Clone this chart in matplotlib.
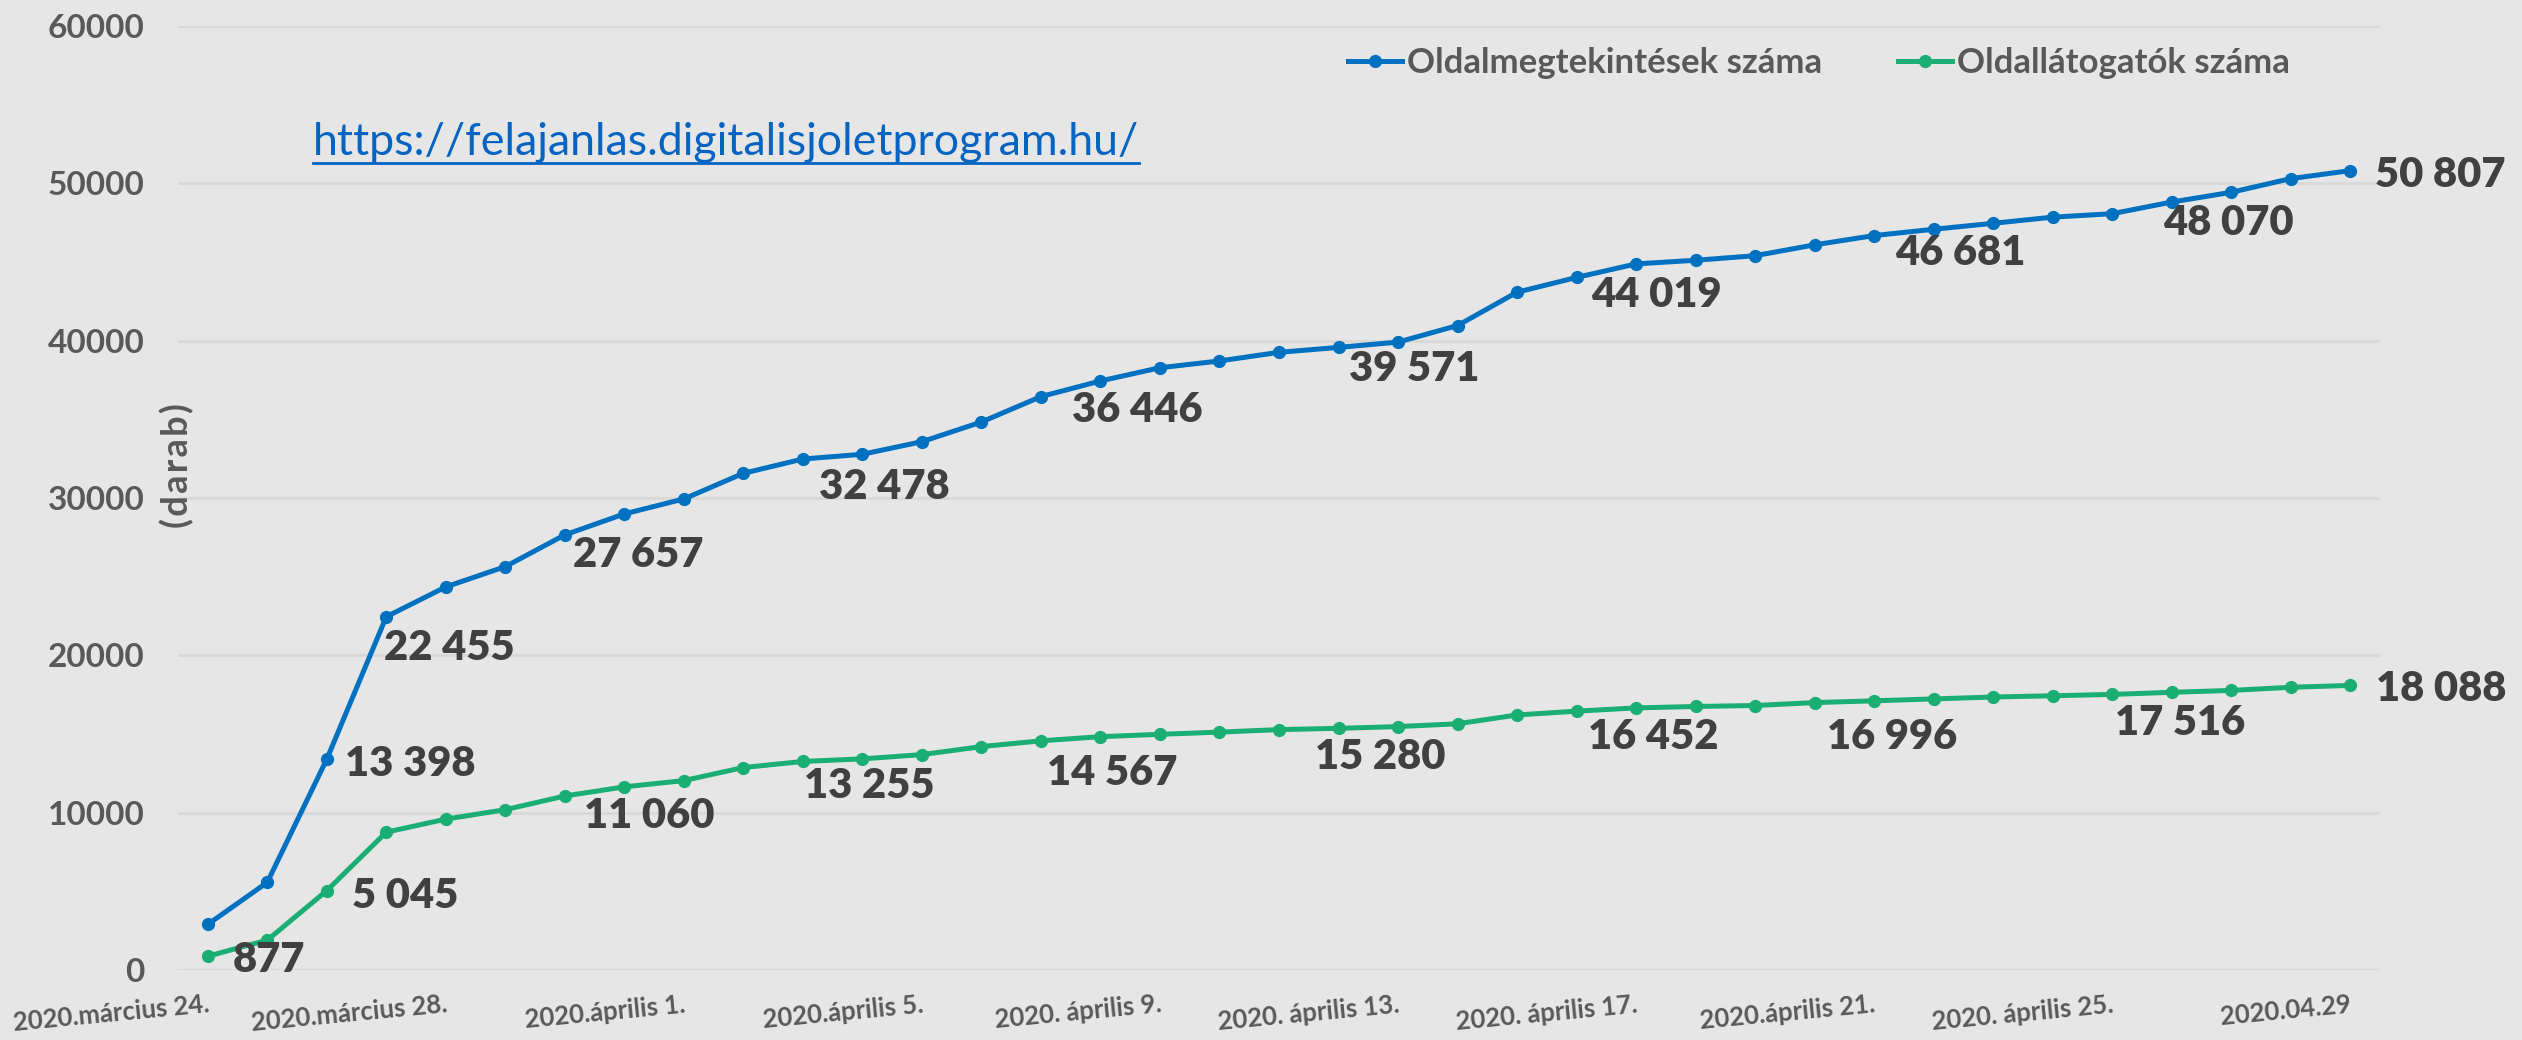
import matplotlib
matplotlib.use("Agg")
import matplotlib.pyplot as plt
from matplotlib.lines import Line2D

# chart data
tick_pos = [0, 4, 8, 12, 16, 20, 24, 28, 32, 36]
tick_labels = ["2020.március 24.", "2020.március 28.", "2020.április 1.", "2020.április 5.",
               "2020. április 9.", "2020. április 13.", "2020. április 17.", "2020.április 21.",
               "2020. április 25.", "2020.04.29"]

views = [2900, 5570, 13398, 22455, 24350, 25640, 27657, 28990, 29940, 31570,
         32478, 32780, 33580, 34830, 36446, 37440, 38280, 38710, 39260, 39571,
         39910, 40960, 43080, 44019, 44880, 45110, 45400, 46090, 46681, 47080,
         47460, 47850, 48070, 48810, 49430, 50300, 50807]
visitors = [877, 1900, 5045, 8760, 9590, 10190, 11060, 11640, 12040, 12870,
            13255, 13420, 13690, 14200, 14567, 14830, 14980, 15120, 15280, 15360,
            15470, 15650, 16210, 16452, 16660, 16750, 16810, 16996, 17110, 17230,
            17350, 17430, 17516, 17650, 17770, 17970, 18088]

series_names = ["Oldalmegtekintések száma", "Oldallátogatók száma"]

# which points get a value label
views_labeled = [2, 3, 6, 10, 14, 19, 23, 28, 32, 36]
visitors_labeled = [0, 2, 6, 10, 14, 18, 23, 27, 32, 36]

url = "https://felajanlas.digitalisjoletprogram.hu/"

# style
W, H = 2522, 1040
bg = "#E7E6E6"
blue = "#0070C0"
green = "#1BAE74"
gray = "#595959"
dark = "#404040"

plt.rcParams['font.family'] = ['Lato', 'DejaVu Sans']

fig = plt.figure(figsize=(W / 100, H / 100), dpi=100, facecolor=bg)
ax = fig.add_axes([178 / W, 1 - 970 / H, 2202 / W, 944 / H])
ax.set_facecolor(bg)

x = list(range(len(views)))
ax.plot(x, views, color=blue, lw=3.6, marker='o', ms=8.5, label=series_names[0], zorder=3)
ax.plot(x, visitors, color=green, lw=3.6, marker='o', ms=8.5, label=series_names[1], zorder=3)

ax.set_xlim(-0.5, len(x) - 0.5)
ax.set_ylim(0, 60000)
ax.set_yticks(range(0, 60001, 10000))
ax.set_yticklabels([str(v) for v in range(0, 60001, 10000)],
                   fontsize=24, fontweight='bold', color=gray)
ax.set_xticks(tick_pos)
ax.set_xticklabels(tick_labels, rotation=5.5, ha='right', rotation_mode='anchor',
                   fontsize=18.5, fontweight='bold', color=gray)
ax.tick_params(length=0)
ax.tick_params(axis='y', pad=24)
ax.tick_params(axis='x', pad=16)
ax.grid(axis='y', color='#D9D9D9', lw=2.2)
ax.set_axisbelow(True)
for s in ax.spines.values():
    s.set_visible(False)


def fmt(v):
    return f"{v:,}".replace(",", " ")


# label offsets in pixels (left edge, vertical centre) relative to the point
views_off = [(18, -2), (-2, -28), (8, -17), (16, -25), (31, -10),
             (10, -19), (14, -15), (21, -14), (51, -6), (25, -1)]
visitors_off = [(25, -1), (25, -2), (19, -17), (1, -22), (6, -29),
                (36, -24), (11, -23), (12, -31), (3, -26), (26, -1)]

for idx, (dx, dy) in zip(views_labeled, views_off):
    ax.annotate(fmt(views[idx]), (idx, views[idx]), xytext=(dx, dy - 15),
                textcoords='offset pixels', ha='left', va='baseline',
                fontsize=30, fontweight='heavy', color=dark, zorder=4)
for idx, (dx, dy) in zip(visitors_labeled, visitors_off):
    ax.annotate(fmt(visitors[idx]), (idx, visitors[idx]), xytext=(dx, dy - 15),
                textcoords='offset pixels', ha='left', va='baseline',
                fontsize=30, fontweight='heavy', color=dark, zorder=4)

# y axis label sits over the left edge (spaced out like the original)
fig.text(177 / W, 1 - 466 / H, "(\u200ad\u200aa\u200ar\u200aa\u200ab\u200a)", rotation=90,
         ha='center', va='center', fontsize=26, fontweight='bold', color=gray)

ax.legend(loc='center left', bbox_to_anchor=((1348 - 178) / 2202, (970 - 63) / 944),
          ncol=2, frameon=False, borderaxespad=0, borderpad=0,
          handlelength=1.55, handletextpad=0.14, columnspacing=2.2,
          prop={'weight': 'bold', 'size': 25}, labelcolor=gray)

# underlined link text, sized to the reference width
link = fig.text(313 / W, 1 - 155 / H, url, ha='left', va='baseline',
                fontsize=28, color="#0563C1")
fig.canvas.draw()
bb = link.get_window_extent()
link.set_fontsize(28 * 828 / bb.width)
fig.canvas.draw()
bb = link.get_window_extent()
fig.add_artist(Line2D([bb.x0 / W, bb.x1 / W], [1 - 163 / H, 1 - 163 / H],
                      transform=fig.transFigure, color="#0563C1", lw=2))

fig.savefig("out.png", dpi=100, facecolor=bg)
